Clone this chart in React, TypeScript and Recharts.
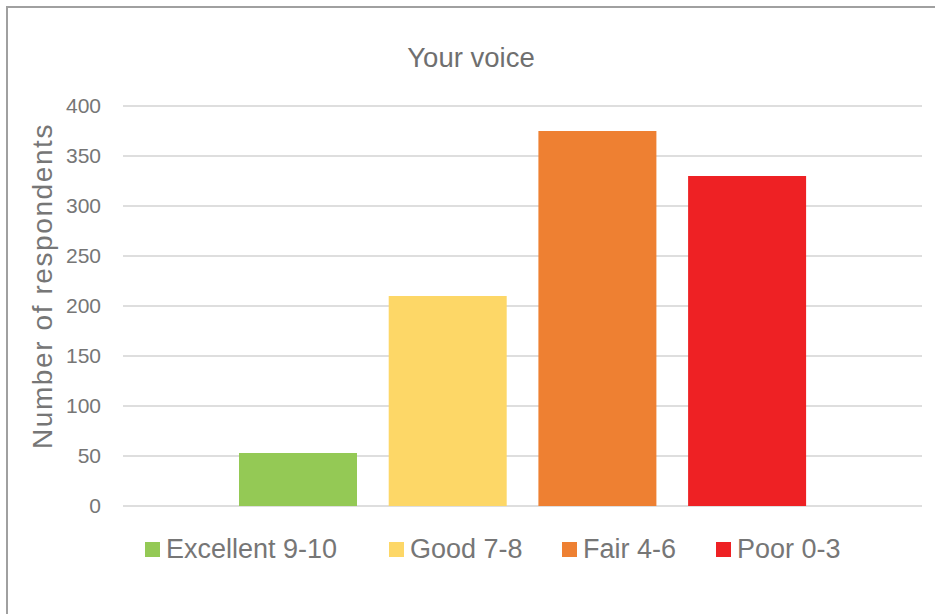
import { Bar, BarChart, CartesianGrid, XAxis, YAxis } from "recharts";

const CATEGORY = ["Your voice"];
const SERIES = ["Excellent 9-10", "Good 7-8", "Fair 4-6", "Poor 0-3"];
const VALUES = [53, 210, 375, 330];
const COLORS = ["#94C955", "#FDD767", "#EE8032", "#EE2124"];
const Y_TICKS = [0, 50, 100, 150, 200, 250, 300, 350, 400];

const FONT = "'Liberation Sans', Arial, sans-serif";
const TEXT = "#767676";
// left edge of each legend item
const LEGEND_X = [145, 389, 562, 716];

const data = CATEGORY.map((name) => {
  const row: Record<string, string | number> = { name };
  SERIES.forEach((s, i) => {
    row[s] = VALUES[i];
  });
  return row;
});

function YLabel() {
  return (
    <text
      x={42}
      y={286}
      transform="rotate(-90 42 286)"
      textAnchor="middle"
      dominantBaseline="central"
      fill={TEXT}
      fontSize={28}
      fontFamily={FONT}
      letterSpacing={1.6}
    >
      Number of respondents
    </text>
  );
}

export default function App() {
  return (
    <div style={{ position: "absolute", left: 0, top: 0, width: 935, height: 614, background: "#fff", fontFamily: FONT }}>
      <div
        style={{
          position: "absolute",
          left: 6,
          top: 6,
          width: 929,
          height: 608,
          boxSizing: "border-box",
          borderLeft: "2px solid #a0a0a0",
          borderTop: "2px solid #a0a0a0",
        }}
      />
      <div
        style={{
          position: "absolute",
          left: 371,
          width: 200,
          top: 44,
          textAlign: "center",
          fontSize: 27.5,
          lineHeight: "27px",
          color: "#6f6f6f",
        }}
      >
        {CATEGORY[0]}
      </div>
      <div style={{ position: "absolute", left: 0, top: 0 }}>
        <BarChart
          width={935}
          height={614}
          data={data}
          margin={{ top: 106, right: 13, left: 0, bottom: 108 }}
          barSize={118}
          barGap={31.7}
        >
          <CartesianGrid vertical={false} stroke="#dedede" strokeWidth={2} />
          <XAxis dataKey="name" hide />
          <YAxis
            domain={[0, 400]}
            ticks={Y_TICKS}
            width={123}
            axisLine={false}
            tickLine={false}
            tickMargin={16}
            tick={{ fill: TEXT, fontSize: 21, fontFamily: FONT }}
            label={{ content: () => <YLabel /> }}
          />
          {SERIES.map((s, i) => (
            <Bar key={s} dataKey={s} fill={COLORS[i]} isAnimationActive={false} />
          ))}
        </BarChart>
      </div>
      {SERIES.map((s, i) => (
        <div
          key={s}
          style={{
            position: "absolute",
            left: LEGEND_X[i],
            top: 536,
            display: "flex",
            alignItems: "center",
            fontSize: 27,
            lineHeight: "27px",
            color: TEXT,
            whiteSpace: "nowrap",
          }}
        >
          <span style={{ display: "inline-block", width: 15, height: 15, background: COLORS[i], marginRight: 6 }} />
          <span>{s}</span>
        </div>
      ))}
    </div>
  );
}
